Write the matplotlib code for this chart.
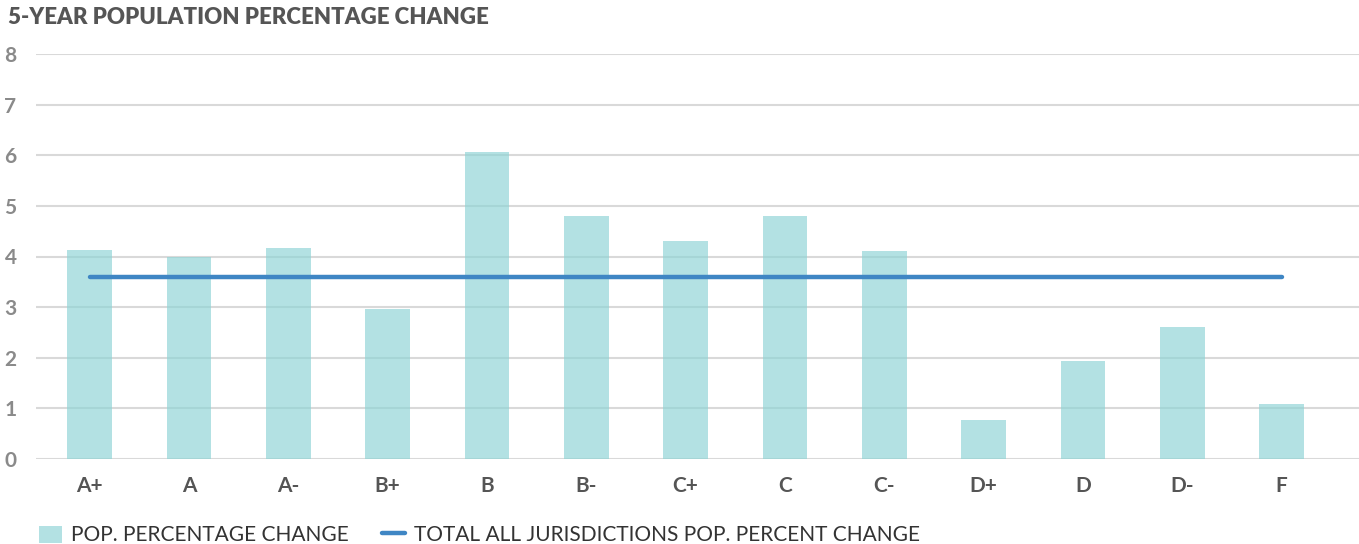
import numpy as np
import matplotlib.pyplot as plt

grades = ['A+', 'A', 'A-', 'B+', 'B', 'B-', 'C+', 'C', 'C-', 'D+', 'D', 'D-', 'F']
pop_change = [4.13, 4.0, 4.17, 2.96, 6.07, 4.8, 4.31, 4.8, 4.11, 0.77, 1.94, 2.61, 1.09]
total_change = [3.6] * len(grades)

plt.rcParams['font.family'] = ['Lato', 'DejaVu Sans']

fig = plt.figure(figsize=(13.59, 5.44), dpi=100)
ax = fig.add_axes([36 / 1359, 85 / 544, 1 - 36 / 1359, 405 / 544])

x = np.arange(len(grades))
bars = ax.bar(x, pop_change, width=0.45, color='#8fd4d6', alpha=0.68, zorder=3,
              label='POP. PERCENTAGE CHANGE')
line, = ax.plot(x, total_change, color='#3f86c4', lw=3.2, solid_capstyle='round', zorder=4,
                label='TOTAL ALL JURISDICTIONS POP. PERCENT CHANGE')

ax.set_ylim(0, 8)
ax.set_xlim(-0.54, 12.78)
ax.set_yticks(range(0, 9))
ax.set_xticks(x)
ax.set_xticklabels(grades, fontsize=15, fontweight='bold', color='#555555')
ax.tick_params(axis='y', labelsize=15, labelcolor='#8a8a8a', length=0, pad=14)
ax.tick_params(axis='x', length=0, pad=12)
for lbl in ax.get_yticklabels():
    lbl.set_fontweight('bold')
ax.grid(axis='y', color='#d9d9d9', lw=1.5, zorder=1)
for s in ax.spines.values():
    s.set_visible(False)

fig.text(8 / 1359, 1 - 18 / 544, '5-YEAR POPULATION PERCENTAGE CHANGE', fontsize=16,
         fontweight='heavy', color='#555555', va='center', ha='left')

leg = fig.legend([bars, line], [bars.get_label(), line.get_label()],
                 loc='lower left', bbox_to_anchor=(20 / 1359, -0.037), ncol=2, frameon=False,
                 fontsize=15, handlelength=1.1, handleheight=0.9, columnspacing=1.6,
                 handletextpad=0.45)
for t in leg.get_texts():
    t.set_color('#333333')

fig.savefig('out.png', dpi=100)
